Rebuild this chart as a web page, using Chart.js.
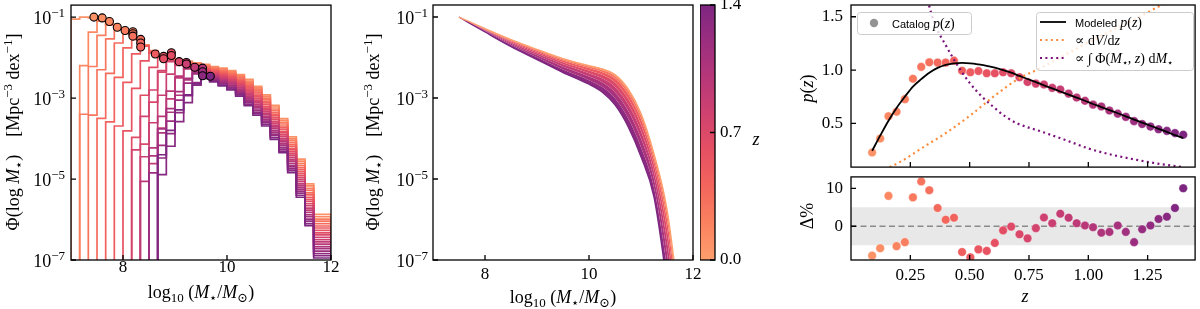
<!DOCTYPE html>
<html>
<head>
<meta charset="utf-8">
<title>Stellar mass functions and p(z)</title>
<script src="https://cdn.jsdelivr.net/npm/chart.js@4.4.1/dist/chart.umd.min.js"></script>
<style>
  body { margin: 0; background: #fff; }
  #fig { position: relative; width: 1200px; height: 309px; overflow: hidden; }
  canvas { position: absolute; }
</style>
</head>
<body>
<div id="fig">
  <canvas id="smf" width="345" height="309" style="left:0;top:0"></canvas>
  <canvas id="model" width="375" height="309" style="left:340px;top:0"></canvas>
  <canvas id="cbar" width="70" height="309" style="left:700px;top:0"></canvas>
  <canvas id="pz" width="430" height="172" style="left:770px;top:0"></canvas>
  <canvas id="resid" width="430" height="137" style="left:770px;top:172px"></canvas>
</div>
<script>
const SERIF = "'Liberation Serif', 'DejaVu Serif', serif";
const SANS = "'Liberation Sans', 'DejaVu Sans', sans-serif";

// ---- panel 1: binned stellar mass functions, one histogram per redshift bin
const massEdges = [7.0, 7.167, 7.333, 7.5, 7.667, 7.833, 8.0, 8.167, 8.333, 8.5, 8.667, 8.833, 9.0, 9.167, 9.333,
  9.5, 9.667, 9.833, 10.0, 10.167, 10.333, 10.5, 10.667, 10.833, 11.0, 11.167, 11.333, 11.5, 11.667, 11.833, 12.0];
const histZ = [0.089, 0.158, 0.227, 0.296, 0.365, 0.434, 0.503, 0.572, 0.641, 0.710, 0.779, 0.848, 0.917, 0.986,
  1.055, 1.124, 1.193, 1.262, 1.331, 1.400];
// index of the first filled bin of every histogram
const histStart = [0, 1, 1, 2, 3, 4, 5, 6, 7, 8, 7, 8, 9, 8, 9, 10, 9, 10, 10, 10];
// log10 Phi, from the first filled bin up to 12
const histLogPhi = [
  [-1.25, -1.05, -1.0, -1.02, -1.10, -1.18, -1.27, -1.39, -1.53, -1.69, -1.83, -1.93, -1.99, -2.05, -2.09, -2.13, -2.17, -2.22, -2.26, -2.32, -2.42, -2.54, -2.71, -2.92, -3.18, -3.51, -3.96, -4.51, -5.12, -5.87],
  [-3.45, -2.2, -1.37, -1.10, -1.19, -1.28, -1.39, -1.53, -1.69, -1.84, -1.94, -2.01, -2.06, -2.10, -2.15, -2.19, -2.24, -2.28, -2.35, -2.44, -2.58, -2.75, -2.96, -3.22, -3.55, -4.01, -4.56, -5.17, -5.93],
  [-4.85, -3.4, -2.22, -1.45, -1.19, -1.28, -1.39, -1.54, -1.70, -1.84, -1.95, -2.02, -2.07, -2.12, -2.17, -2.21, -2.26, -2.31, -2.37, -2.47, -2.61, -2.78, -3.00, -3.27, -3.60, -4.05, -4.61, -5.23, -5.99],
  [-4.8, -3.42, -2.3, -1.54, -1.28, -1.40, -1.54, -1.71, -1.85, -1.96, -2.03, -2.09, -2.13, -2.18, -2.23, -2.28, -2.33, -2.40, -2.50, -2.65, -2.82, -3.04, -3.31, -3.64, -4.10, -4.66, -5.28, -6.04],
  [-4.82, -3.5, -2.39, -1.64, -1.40, -1.55, -1.71, -1.86, -1.97, -2.04, -2.10, -2.15, -2.20, -2.25, -2.30, -2.35, -2.42, -2.53, -2.68, -2.86, -3.08, -3.36, -3.69, -4.15, -4.71, -5.34, -6.10],
  [-4.9, -3.59, -2.49, -1.76, -1.55, -1.72, -1.87, -1.98, -2.05, -2.11, -2.16, -2.22, -2.27, -2.32, -2.38, -2.45, -2.56, -2.71, -2.90, -3.12, -3.40, -3.73, -4.19, -4.76, -5.39, -6.16],
  [-5.0, -3.69, -2.61, -1.91, -1.72, -1.87, -1.99, -2.06, -2.12, -2.18, -2.23, -2.28, -2.34, -2.40, -2.47, -2.59, -2.75, -2.93, -3.16, -3.44, -3.77, -4.24, -4.81, -5.45, -6.21],
  [-5.09, -3.81, -2.76, -2.08, -1.88, -1.99, -2.07, -2.14, -2.19, -2.25, -2.30, -2.36, -2.42, -2.50, -2.61, -2.78, -2.97, -3.21, -3.49, -3.82, -4.28, -4.86, -5.50, -6.27],
  [-5.22, -3.97, -2.93, -2.24, -2.00, -2.08, -2.15, -2.21, -2.27, -2.32, -2.38, -2.45, -2.52, -2.64, -2.82, -3.01, -3.25, -3.53, -3.86, -4.33, -4.91, -5.55, -6.33],
  [-5.37, -4.14, -3.10, -2.36, -2.09, -2.16, -2.22, -2.28, -2.34, -2.40, -2.47, -2.55, -2.67, -2.85, -3.05, -3.29, -3.58, -3.91, -4.38, -4.96, -5.61, -6.38],
  [-5.32, -4.28, -3.45, -2.80, -2.32, -2.10, -2.18, -2.24, -2.30, -2.36, -2.42, -2.49, -2.57, -2.70, -2.88, -3.08, -3.33, -3.62, -3.95, -4.42, -5.01, -5.66, -6.44],
  [-5.48, -4.45, -3.61, -2.93, -2.41, -2.19, -2.25, -2.32, -2.37, -2.44, -2.52, -2.60, -2.73, -2.92, -3.12, -3.37, -3.67, -4.00, -4.47, -5.06, -5.72, -6.50],
  [-5.66, -4.62, -3.74, -3.02, -2.50, -2.27, -2.33, -2.39, -2.46, -2.54, -2.62, -2.75, -2.95, -3.16, -3.41, -3.71, -4.04, -4.52, -5.11, -5.77, -6.55],
  [-6.09, -5.06, -4.23, -3.45, -2.83, -2.46, -2.28, -2.35, -2.41, -2.48, -2.56, -2.65, -2.78, -2.99, -3.20, -3.45, -3.75, -4.08, -4.56, -5.15, -5.82, -6.61],
  [-5.07, -4.43, -3.86, -3.35, -2.93, -2.55, -2.37, -2.43, -2.50, -2.58, -2.68, -2.81, -3.02, -3.23, -3.49, -3.80, -4.13, -4.61, -5.20, -5.88, -6.67],
  [-4.34, -3.76, -3.26, -2.84, -2.51, -2.38, -2.45, -2.52, -2.61, -2.70, -2.84, -3.05, -3.27, -3.53, -3.84, -4.17, -4.66, -5.25, -5.93, -6.72],
  [-5.58, -4.85, -4.17, -3.57, -3.05, -2.63, -2.40, -2.47, -2.54, -2.63, -2.73, -2.87, -3.09, -3.31, -3.57, -3.89, -4.22, -4.70, -5.30, -5.99, -6.78],
  [-5.16, -4.48, -3.88, -3.36, -2.94, -2.62, -2.48, -2.56, -2.65, -2.75, -2.89, -3.12, -3.35, -3.61, -3.93, -4.26, -4.75, -5.35, -6.04, -6.84],
  [-5.66, -4.89, -4.19, -3.58, -3.11, -2.68, -2.50, -2.58, -2.68, -2.78, -2.92, -3.16, -3.38, -3.65, -3.98, -4.31, -4.79, -5.40, -6.10, -6.89],
  [-5.07, -4.40, -3.80, -3.29, -2.92, -2.65, -2.52, -2.60, -2.70, -2.80, -2.95, -3.19, -3.42, -3.69, -4.02, -4.35, -4.84, -5.45, -6.15, -6.95]
];
// completeness-limit markers
const limitZ = [0.09, 0.12, 0.16, 0.19, 0.23, 0.26, 0.30, 0.33, 0.37, 0.40, 0.43, 0.50, 0.54, 0.61, 0.57, 0.64, 0.71, 0.78, 0.84, 0.91, 1.02, 1.16, 1.30, 1.40];
const limitMass = [7.44, 7.60, 7.74, 7.89, 8.04, 8.19, 8.19, 8.19, 8.34, 8.34, 8.34, 8.62, 8.78, 8.78, 8.93, 8.93, 9.08, 9.22, 9.22, 9.38, 9.53, 9.53, 9.53, 9.68];
const limitLogPhi = [-1.0, -1.02, -1.11, -1.25, -1.33, -1.36, -1.41, -1.47, -1.55, -1.64, -1.74, -1.91, -1.97, -2.03, -1.88, -1.95, -2.10, -2.12, -2.16, -2.24, -2.26, -2.35, -2.45, -2.46];

// ---- panel 2: modelled mass functions
const modelMass = [7.5, 8.0, 8.5, 9.0, 9.5, 10.0, 10.25, 10.5, 10.75, 11.0, 11.25, 11.5, 11.75];
const modelZ = [0.0, 0.2, 0.4, 0.6, 0.8, 1.0, 1.2, 1.4];
const modelLogPhi = [
  [-1.0, -1.29, -1.56, -1.80, -2.03, -2.20, -2.28, -2.42, -2.77, -3.38, -4.38, -5.75, -8.2],
  [-1.0, -1.294, -1.568, -1.811, -2.045, -2.221, -2.306, -2.454, -2.812, -3.428, -4.428, -5.833, -8.295],
  [-1.0, -1.30, -1.583, -1.834, -2.076, -2.262, -2.357, -2.521, -2.896, -3.524, -4.524, -6.0, -8.484],
  [-1.0, -1.31, -1.604, -1.865, -2.118, -2.32, -2.428, -2.615, -3.012, -3.658, -4.658, -6.231, -8.746],
  [-1.0, -1.323, -1.63, -1.903, -2.169, -2.389, -2.514, -2.728, -3.151, -3.819, -4.819, -6.509, -9.061],
  [-1.0, -1.336, -1.659, -1.945, -2.227, -2.467, -2.611, -2.855, -3.309, -4.001, -5.001, -6.823, -9.418],
  [-1.0, -1.352, -1.693, -1.995, -2.295, -2.559, -2.725, -3.005, -3.495, -4.215, -5.215, -7.193, -9.838],
  [-1.0, -1.37, -1.73, -2.05, -2.37, -2.66, -2.85, -3.17, -3.70, -4.45, -5.45, -7.6, -10.3]
];
const massTicks = [8, 10, 12];
const phiTicks = [1e-1, 1e-3, 1e-5, 1e-7];
const cbarTicks = [0, 0.7, 1.4];

// ---- panel 3: redshift distribution
const zCat = [0.089, 0.123, 0.158, 0.192, 0.227, 0.261, 0.296, 0.330, 0.365, 0.399, 0.434, 0.468, 0.503, 0.537,
  0.572, 0.606, 0.641, 0.675, 0.710, 0.744, 0.779, 0.813, 0.848, 0.882, 0.917, 0.951, 0.986, 1.020, 1.055,
  1.089, 1.124, 1.158, 1.193, 1.227, 1.262, 1.296, 1.331, 1.365, 1.400];
const pzCatalog = [0.227, 0.358, 0.567, 0.609, 0.727, 0.918, 1.03, 1.073, 1.07, 1.07, 1.088, 0.994, 0.979, 0.991,
  0.970, 0.970, 0.979, 0.970, 0.933, 0.888, 0.873, 0.864, 0.833, 0.818, 0.779, 0.742, 0.712, 0.676, 0.658,
  0.621, 0.591, 0.561, 0.521, 0.494, 0.470, 0.445, 0.430, 0.409, 0.394];
const pzModel = [0.243, 0.385, 0.525, 0.645, 0.75, 0.845, 0.915, 0.975, 1.02, 1.048, 1.063, 1.067, 1.063, 1.053,
  1.04, 1.022, 1.0, 0.975, 0.945, 0.916, 0.887, 0.857, 0.828, 0.799, 0.770, 0.741, 0.712, 0.682, 0.653,
  0.624, 0.595, 0.566, 0.536, 0.507, 0.478, 0.449, 0.420, 0.390, 0.361];
const residPct = [-7.75, -5.8, 8.0, -5.25, -4.2, 7.6, 11.8, 9.5, 4.8, 1.7, 2.25, -6.8, -8.2, -6.1, -6.5, -4.4,
  -1.1, -0.1, -2.1, -3.2, -0.5, 2.3, 0.8, 3.3, 2.25, 0.8, 0.2, -0.25, -1.7, -1.5, 0.2, -1.5, -4.2, -0.8, 0.2,
  1.9, 2.5, 4.8, 10.0];
const zVol = [0.1, 0.2, 0.3, 0.4, 0.5, 0.6, 0.7, 0.8, 0.9, 1.0, 1.1, 1.2, 1.3, 1.4];
const pzVol = [0.03, 0.13, 0.27, 0.41, 0.57, 0.75, 0.91, 1.02, 1.14, 1.26, 1.37, 1.48, 1.60, 1.71];
const zInt = [0.3, 0.35, 0.4, 0.45, 0.5, 0.55, 0.6, 0.65, 0.7, 0.8, 0.9, 1.0, 1.1, 1.2, 1.3, 1.4];
const pzInt = [1.85, 1.45, 1.23, 1.04, 0.88, 0.755, 0.655, 0.565, 0.5, 0.425, 0.347, 0.265, 0.205, 0.16, 0.12, 0.09];
const zTicks = [0.25, 0.5, 0.75, 1.0, 1.25];
const pzTicks = [0.5, 1.0, 1.5];
const residTicks = [0, 10];
const residBand = 5;

// colour map for redshift: light orange (z = 0) to purple (z = 1.4)
const zMax = 1.4;
const cmapStops = [[254, 159, 109], [250, 130, 95], [243, 102, 92], [230, 80, 99], [208, 66, 111], [183, 55, 121], [155, 46, 127], [125, 38, 129]];
function zColor(z) {
  const t = Math.min(Math.max(z / zMax, 0), 1) * (cmapStops.length - 1);
  const i = Math.min(Math.floor(t), cmapStops.length - 2);
  const f = t - i;
  const c = cmapStops[i].map((v, k) => Math.round(v + (cmapStops[i + 1][k] - v) * f));
  return `rgb(${c[0]}, ${c[1]}, ${c[2]})`;
}

// text with italic / sub / superscript pieces
function segFont(style, size) {
  const small = Math.round(size * 0.7);
  if (style === 'i') return [`italic ${size}px ${SERIF}`, 0];
  if (style === 'sub') return [`${small}px ${SERIF}`, size * 0.22];
  if (style === 'sup') return [`${small}px ${SERIF}`, -size * 0.38];
  if (style === 'sans') return [`${Math.round(size * 0.8)}px ${SANS}`, 0];
  return [`${size}px ${SERIF}`, 0];
}
function drawSegs(ctx, segs, x, y, size, align, rot) {
  ctx.save();
  ctx.translate(x, y);
  if (rot) ctx.rotate(rot);
  ctx.fillStyle = '#000';
  ctx.textAlign = 'left';
  ctx.textBaseline = 'alphabetic';
  let w = 0;
  const parts = segs.map(([t, st]) => {
    const [f, dy] = segFont(st, size);
    ctx.font = f;
    const pw = ctx.measureText(t).width;
    w += pw;
    return { t, f, dy, pw };
  });
  let cx = align === 'center' ? -w / 2 : (align === 'right' ? -w : 0);
  parts.forEach(p => { ctx.font = p.f; ctx.fillText(p.t, cx, p.dy); cx += p.pw; });
  ctx.restore();
}

// box around the plot area + inward ticks
const frame = {
  id: 'frame',
  afterDraw(chart, args, opts) {
    const { ctx, chartArea: a } = chart;
    ctx.save();
    ctx.strokeStyle = '#000';
    ctx.lineWidth = 1.3;
    ctx.beginPath();
    (opts.ticks || []).forEach(id => {
      const s = chart.scales[id];
      s.ticks.forEach(t => {
        const p = s.getPixelForValue(t.value);
        if (s.isHorizontal()) { ctx.moveTo(p, a.bottom); ctx.lineTo(p, a.bottom - 5); }
        else if (s.position === 'right') { ctx.moveTo(a.right, p); ctx.lineTo(a.right - 5, p); }
        else { ctx.moveTo(a.left, p); ctx.lineTo(a.left + 5, p); }
      });
    });
    ctx.stroke();
    ctx.strokeRect(a.left, a.top, a.right - a.left, a.bottom - a.top);
    ctx.restore();
  }
};

// 10^n labels for the log axes
const sciLabels = {
  id: 'sciLabels',
  afterDraw(chart, args, opts) {
    const ctx = chart.ctx, s = chart.scales.y;
    const right = chart.chartArea.left - opts.gap;
    s.ticks.forEach(t => {
      const p = s.getPixelForValue(t.value);
      drawSegs(ctx, [['10', 'r'], ['\u2212' + Math.round(-Math.log10(t.value)), 'sup']], right, p + 7, 18, 'right');
    });
  }
};

// free text (axis titles etc.)
const texts = {
  id: 'texts',
  afterDraw(chart, args, opts) {
    (opts.items || []).forEach(it => drawSegs(chart.ctx, it.segs, it.x, it.y, it.size || 18, it.align || 'center', it.rot || 0));
  }
};

const massTitle = [['log', 'r'], ['10', 'sub'], [' (', 'r'], ['M', 'i'], ['\u22c6', 'sub'], ['/', 'r'], ['M', 'i'], ['\u2299', 'sub'], [')', 'r']];
const phiTitle = [['\u03a6(log ', 'r'], ['M', 'i'], ['\u22c6', 'sub'], [')    [Mpc', 'r'], ['\u22123', 'sup'], [' dex', 'r'], ['\u22121', 'sup'], [']', 'r']];

function hideGrid() { return { display: false, drawTicks: false }; }
function fixedTicks(list) { return s => { s.ticks = list.map(v => ({ value: v })); }; }
// fixed axis size, and no extra room for labels that overhang the ends
function fixSize(w, h) {
  return s => {
    if (w !== undefined) s.width = w;
    if (h !== undefined) s.height = h;
    s.paddingTop = s.paddingBottom = s.paddingLeft = s.paddingRight = 0;
  };
}
const tickFont = { family: SERIF, size: 17 };

// ---------------- panel 1 ----------------
function histPoints(start, logs) {
  const n = Math.min(logs.length, massEdges.length - 1 - start);
  const pts = [{ x: massEdges[start], y: 1e-12 }];
  for (let j = 0; j < n; j++) pts.push({ x: massEdges[start + j], y: 10 ** logs[j] });
  const end = massEdges[start + n];
  pts.push({ x: end, y: 10 ** logs[n - 1] }, { x: end, y: 1e-12 });
  return pts;
}
const histSets = histZ.map((z, k) => ({
  data: histPoints(histStart[k], histLogPhi[k]),
  stepped: 'after',
  borderColor: zColor(z),
  borderWidth: 1.7,
  pointRadius: 0,
  fill: false,
  clip: 0,
  order: histZ.length - k
}));
histSets.push({
  type: 'scatter',
  data: limitMass.map((m, i) => ({ x: m, y: 10 ** limitLogPhi[i] })),
  pointRadius: 4,
  pointBackgroundColor: limitZ.map(zColor),
  pointBorderColor: '#000',
  pointBorderWidth: 1.1,
  order: -1
});

new Chart(document.getElementById('smf'), {
  type: 'line',
  data: { datasets: histSets },
  options: {
    responsive: false, animation: false, events: [], devicePixelRatio: 1,
    layout: { padding: { left: 71, top: 5, right: 14, bottom: 0 } },
    plugins: {
      legend: { display: false }, tooltip: { enabled: false },
      frame: { ticks: ['x', 'y'] },
      sciLabels: { gap: 6 },
      texts: { items: [
        { segs: phiTitle, x: 19, y: 132, rot: -Math.PI / 2 },
        { segs: massTitle, x: 201, y: 298 }
      ] }
    },
    scales: {
      x: {
        type: 'linear', min: 7, max: 12,
        afterBuildTicks: fixedTicks(massTicks),
        afterFit: fixSize(undefined, 49),
        grid: hideGrid(), border: { display: false },
        ticks: { font: tickFont, color: '#000', padding: -3, maxRotation: 0, callback: v => String(v) }
      },
      y: {
        type: 'logarithmic', min: 1e-7, max: 0.198, display: false,
        afterBuildTicks: fixedTicks(phiTicks)
      }
    }
  },
  plugins: [frame, sciLabels, texts]
});

// ---------------- panel 2 ----------------
const modelSets = modelZ.map((z, k) => ({
  data: modelMass.map((m, i) => ({ x: m, y: 10 ** modelLogPhi[k][i] })),
  borderColor: zColor(z),
  backgroundColor: zColor(k === 0 ? z : (z + modelZ[k - 1]) / 2),
  borderWidth: k === 0 || k === modelZ.length - 1 ? 1.4 : 0,
  pointRadius: 0,
  cubicInterpolationMode: 'monotone',
  fill: k === 0 ? false : '-1',
  clip: 0,
  order: k === 0 ? -1 : 0
}));

new Chart(document.getElementById('model'), {
  type: 'line',
  data: { datasets: modelSets },
  options: {
    responsive: false, animation: false, events: [], devicePixelRatio: 1,
    layout: { padding: { left: 93, top: 5, right: 22, bottom: 0 } },
    plugins: {
      legend: { display: false }, tooltip: { enabled: false },
      filler: { propagate: false },
      frame: { ticks: ['x', 'y'] },
      sciLabels: { gap: 5 },
      texts: { items: [
        { segs: phiTitle, x: 39, y: 132, rot: -Math.PI / 2 },
        { segs: massTitle, x: 223, y: 303 }
      ] }
    },
    scales: {
      x: {
        type: 'linear', min: 7, max: 12,
        afterBuildTicks: fixedTicks(massTicks),
        afterFit: fixSize(undefined, 49),
        grid: hideGrid(), border: { display: false },
        ticks: { font: tickFont, color: '#000', padding: 4, maxRotation: 0, callback: v => String(v) }
      },
      y: {
        type: 'logarithmic', min: 1e-7, max: 0.198, display: false,
        afterBuildTicks: fixedTicks(phiTicks)
      }
    }
  },
  plugins: [frame, sciLabels, texts]
});

// ---------------- colour bar ----------------
const cbarFill = {
  id: 'cbarFill',
  beforeDraw(chart) {
    const { ctx, chartArea: a } = chart;
    const s = chart.scales.y;
    const g = ctx.createLinearGradient(0, s.getPixelForValue(0), 0, s.getPixelForValue(zMax));
    cmapStops.forEach((c, i) => g.addColorStop(i / (cmapStops.length - 1), `rgb(${c[0]}, ${c[1]}, ${c[2]})`));
    ctx.save();
    ctx.fillStyle = g;
    ctx.fillRect(a.left, a.top, a.right - a.left, a.bottom - a.top);
    ctx.restore();
  }
};
new Chart(document.getElementById('cbar'), {
  type: 'scatter',
  data: { datasets: [] },
  options: {
    responsive: false, animation: false, events: [], devicePixelRatio: 1,
    layout: { padding: { left: 0, top: 5, right: 0, bottom: 49 } },
    plugins: {
      legend: { display: false }, tooltip: { enabled: false },
      frame: { ticks: ['y'] },
      texts: { items: [{ segs: [['z', 'i']], x: 56, y: 145 }] }
    },
    scales: {
      x: { display: false, min: 0, max: 1 },
      y: {
        position: 'right', min: 0, max: zMax,
        afterBuildTicks: fixedTicks(cbarTicks),
        afterFit: fixSize(55),
        grid: hideGrid(), border: { display: false },
        ticks: { font: tickFont, color: '#000', padding: 5, callback: v => v.toFixed(1) }
      }
    }
  },
  plugins: [cbarFill, frame, texts]
});

// ---------------- panel 3, top ----------------
function legendBox(ctx, x, y, w, h) {
  ctx.beginPath();
  ctx.roundRect(x + 0.5, y + 0.5, w, h, 3);
  ctx.fillStyle = 'rgba(255,255,255,0.8)';
  ctx.fill();
  ctx.strokeStyle = '#cccccc';
  ctx.lineWidth = 1;
  ctx.stroke();
}
const pzLegend = {
  id: 'pzLegend',
  afterDatasetsDraw(chart) {
    const ctx = chart.ctx;
    ctx.save();
    legendBox(ctx, 87, 12, 114, 22);
    legendBox(ctx, 266, 12, 157, 58);
    ctx.fillStyle = 'rgba(128,128,128,0.85)';
    ctx.beginPath(); ctx.arc(104, 23, 4.2, 0, 2 * Math.PI); ctx.fill();
    ctx.lineWidth = 1.8;
    ctx.strokeStyle = '#000';
    ctx.beginPath(); ctx.moveTo(270, 22); ctx.lineTo(296, 22); ctx.stroke();
    ctx.lineWidth = 2;
    ctx.setLineDash([2, 3.4]);
    ctx.strokeStyle = 'rgb(253, 141, 60)';
    ctx.beginPath(); ctx.moveTo(270, 40); ctx.lineTo(296, 40); ctx.stroke();
    ctx.strokeStyle = 'rgb(122, 16, 122)';
    ctx.beginPath(); ctx.moveTo(270, 58); ctx.lineTo(296, 58); ctx.stroke();
    ctx.restore();
    drawSegs(ctx, [['Catalog ', 'sans'], ['p', 'i'], ['(', 'r'], ['z', 'i'], [')', 'r']], 122, 27.5, 14, 'left');
    drawSegs(ctx, [['Modeled ', 'sans'], ['p', 'i'], ['(', 'r'], ['z', 'i'], [')', 'r']], 305, 26.5, 14, 'left');
    drawSegs(ctx, [['\u221d d', 'r'], ['V', 'i'], ['/d', 'r'], ['z', 'i']], 305, 44.5, 14, 'left');
    drawSegs(ctx, [['\u221d \u222b \u03a6(', 'r'], ['M', 'i'], ['\u22c6', 'sub'], [', ', 'r'], ['z', 'i'], [') d', 'r'], ['M', 'i'], ['\u22c6', 'sub']], 305, 62.5, 14, 'left');
  }
};

new Chart(document.getElementById('pz'), {
  type: 'line',
  data: {
    datasets: [
      {
        data: zCat.map((z, i) => ({ x: z, y: pzModel[i] })),
        borderColor: '#000', borderWidth: 1.8, pointRadius: 0, cubicInterpolationMode: 'monotone', clip: 0
      },
      {
        data: zVol.map((z, i) => ({ x: z, y: pzVol[i] })),
        borderColor: 'rgb(253, 141, 60)', borderWidth: 2.2, borderDash: [2, 3.4], pointRadius: 0,
        cubicInterpolationMode: 'monotone', clip: 0
      },
      {
        data: zInt.map((z, i) => ({ x: z, y: pzInt[i] })),
        borderColor: 'rgb(122, 16, 122)', borderWidth: 2.2, borderDash: [2, 3.4], pointRadius: 0,
        cubicInterpolationMode: 'monotone', clip: 0
      },
      {
        type: 'scatter',
        data: zCat.map((z, i) => ({ x: z, y: pzCatalog[i] })),
        pointRadius: 4.3, pointBackgroundColor: zCat.map(zColor), pointBorderColor: 'rgba(255,255,255,0.6)',
        pointBorderWidth: 0.6
      }
    ]
  },
  options: {
    responsive: false, animation: false, events: [], devicePixelRatio: 1,
    layout: { padding: { left: 0, top: 5, right: 2, bottom: 0 } },
    plugins: {
      legend: { display: false }, tooltip: { enabled: false },
      frame: { ticks: ['x', 'y'] },
      texts: { items: [{ segs: [['p', 'i'], ['(', 'r'], ['z', 'i'], [')', 'r']], x: 43, y: 88.5, rot: -Math.PI / 2 }] }
    },
    scales: {
      x: { type: 'linear', min: 0, max: 1.45, display: false, afterBuildTicks: fixedTicks(zTicks) },
      y: {
        min: 0.09, max: 1.61,
        afterBuildTicks: fixedTicks(pzTicks),
        afterFit: fixSize(81),
        grid: hideGrid(), border: { display: false },
        ticks: { font: tickFont, color: '#000', padding: 8, callback: v => v.toFixed(1) }
      }
    }
  },
  plugins: [pzLegend, frame, texts]
});

// ---------------- panel 3, residuals ----------------
new Chart(document.getElementById('resid'), {
  type: 'line',
  data: {
    datasets: [
      {
        type: 'scatter',
        data: zCat.map((z, i) => ({ x: z, y: residPct[i] })),
        pointRadius: 4.3, pointBackgroundColor: zCat.map(zColor), pointBorderColor: 'rgba(255,255,255,0.6)',
        pointBorderWidth: 0.6, clip: 0
      },
      {
        data: [{ x: 0, y: 0 }, { x: 1.45, y: 0 }],
        borderColor: '#8a8a8a', borderWidth: 1.6, borderDash: [6, 3.5], pointRadius: 0
      },
      {
        data: [{ x: 0, y: residBand }, { x: 1.45, y: residBand }],
        borderWidth: 0, pointRadius: 0, fill: '+1', backgroundColor: '#e8e8e8'
      },
      {
        data: [{ x: 0, y: -residBand }, { x: 1.45, y: -residBand }],
        borderWidth: 0, pointRadius: 0, fill: false
      }
    ]
  },
  options: {
    responsive: false, animation: false, events: [], devicePixelRatio: 1,
    layout: { padding: { left: 0, top: 0, right: 2, bottom: 0 } },
    plugins: {
      legend: { display: false }, tooltip: { enabled: false },
      frame: { ticks: ['x', 'y'] },
      texts: { items: [
        { segs: [['\u0394%', 'r']], x: 43, y: 44, rot: -Math.PI / 2 },
        { segs: [['z', 'i']], x: 255, y: 130 }
      ] }
    },
    scales: {
      x: {
        type: 'linear', min: 0, max: 1.45,
        afterBuildTicks: fixedTicks(zTicks),
        afterFit: fixSize(undefined, 49),
        grid: hideGrid(), border: { display: false },
        ticks: { font: tickFont, color: '#000', padding: 5, maxRotation: 0, callback: v => v.toFixed(2) }
      },
      y: {
        min: -8.9, max: 13,
        afterBuildTicks: fixedTicks(residTicks),
        afterFit: fixSize(81),
        grid: hideGrid(), border: { display: false },
        ticks: { font: tickFont, color: '#000', padding: 8, callback: v => String(v) }
      }
    }
  },
  plugins: [frame, texts]
});
</script>
</body>
</html>
